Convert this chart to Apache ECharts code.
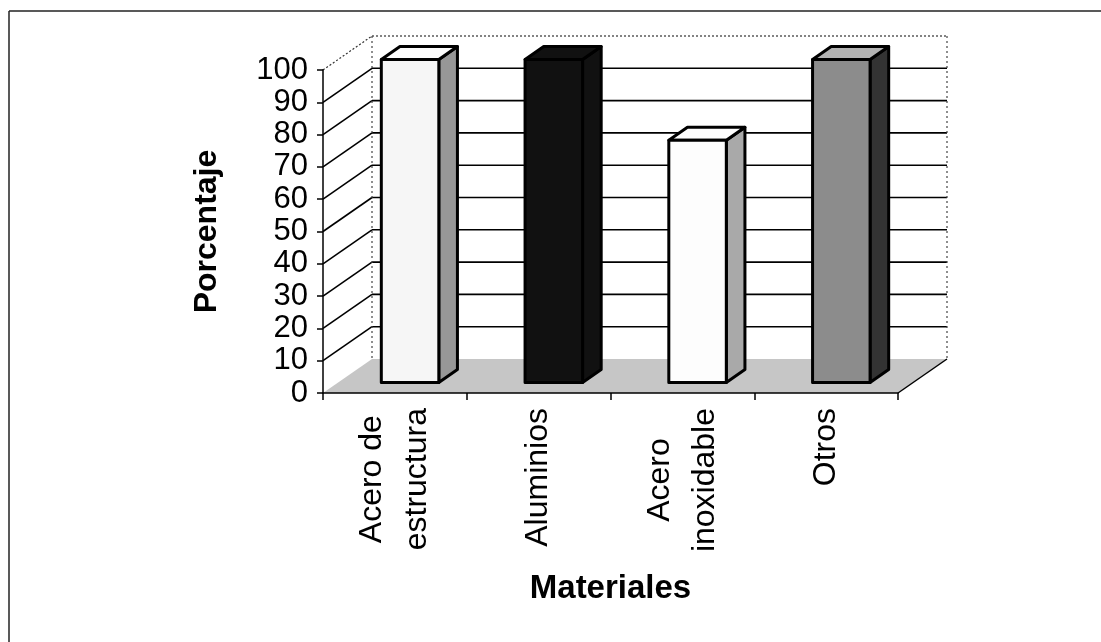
<!DOCTYPE html>
<html>
<head>
<meta charset="utf-8">
<script src="https://cdn.jsdelivr.net/npm/echarts@6/dist/echarts.min.js"></script>
<style>
  html, body { margin: 0; padding: 0; background: #fff; }
  #chart { width: 1101px; height: 642px; }
</style>
</head>
<body>
<div id="chart"></div>
<script>
// Chart data
const categories = ['Acero de\nestructura', 'Aluminios', 'Acero\ninoxidable', 'Otros'];
const percentages = [100, 100, 75, 100];
const yTicks = [0, 10, 20, 30, 40, 50, 60, 70, 80, 90, 100];
const yAxisTitle = 'Porcentaje';
const xAxisTitle = 'Materiales';

// Face colours for each bar (front, right side, top)
const barFaces = [
  { front: '#f6f6f6', side: '#979797', top: '#fcfcfc' },
  { front: '#111111', side: '#111111', top: '#111111' },
  { front: '#fdfdfd', side: '#a9a9a9', top: '#fdfdfd' },
  { front: '#8c8c8c', side: '#333333', top: '#b3b3b3' }
];

// Oblique projection of the depth axis, in pixels for the full depth
const DEPTH_X = 49;
const DEPTH_Y = -34;
// Bars sit in the middle of the depth range
const BAR_D0 = 0.31;
const BAR_D1 = 0.69;
// Bar width as a share of the category band (gap width 150%)
const BAR_RATIO = 0.4;

const FONT = "'Liberation Sans', Arial, Helvetica, sans-serif";

const chart = echarts.init(document.getElementById('chart'), null, { renderer: 'canvas' });

// Floor, back wall, side wall and their grid lines
function renderScene(params, api) {
  const n = categories.length;
  const yMin = yTicks[0];
  const yMax = yTicks[yTicks.length - 1];
  const band = api.size([1, 0])[0];
  const first = api.coord([0, yMin]);
  const last = api.coord([n - 1, yMin]);
  const xl = first[0] - band / 2;
  const xr = last[0] + band / 2;
  const yb = first[1];
  const yTop = api.coord([0, yMax])[1];
  const children = [];

  children.push({
    type: 'polygon',
    shape: { points: [[xl, yb], [xr, yb], [xr + DEPTH_X, yb + DEPTH_Y], [xl + DEPTH_X, yb + DEPTH_Y]] },
    style: { fill: '#c6c6c6', stroke: null }
  });

  yTicks.forEach(function (v, k) {
    if (k === 0) return;
    const y = api.coord([0, v])[1];
    const isEdge = (k === yTicks.length - 1);
    const lineStyle = isEdge
      ? { stroke: '#333', lineWidth: 1.2, lineDash: [2, 2] }
      : { stroke: '#000', lineWidth: 1.6 };
    // back wall
    children.push({
      type: 'line',
      shape: { x1: xl + DEPTH_X, y1: y + DEPTH_Y, x2: xr + DEPTH_X, y2: y + DEPTH_Y },
      style: lineStyle
    });
    // side wall
    children.push({
      type: 'line',
      shape: { x1: xl, y1: y, x2: xl + DEPTH_X, y2: y + DEPTH_Y },
      style: lineStyle
    });
  });

  // wall verticals
  [xl + DEPTH_X, xr + DEPTH_X].forEach(function (x) {
    children.push({
      type: 'line',
      shape: { x1: x, y1: yTop + DEPTH_Y, x2: x, y2: yb + DEPTH_Y },
      style: { stroke: '#444', lineWidth: 1.2, lineDash: [2, 3] }
    });
  });

  // floor right edge
  children.push({
    type: 'line',
    shape: { x1: xr, y1: yb, x2: xr + DEPTH_X, y2: yb + DEPTH_Y },
    style: { stroke: '#000', lineWidth: 1.5 }
  });

  return { type: 'group', children: children };
}

// One prism per category
function renderBar(params, api) {
  const i = api.value(0);
  const v = api.value(1);
  const base = api.coord([i, 0]);
  const top = api.coord([i, v]);
  const bw = api.size([1, 0])[0] * BAR_RATIO;
  const ox = BAR_D0 * DEPTH_X, oy = BAR_D0 * DEPTH_Y;
  const dx = (BAR_D1 - BAR_D0) * DEPTH_X, dy = (BAR_D1 - BAR_D0) * DEPTH_Y;
  const x0 = base[0] - bw / 2 + ox;
  const x1 = base[0] + bw / 2 + ox;
  const yB = base[1] + oy;
  const yT = top[1] + oy;
  const f = barFaces[params.dataIndex];
  const edge = { stroke: '#000', lineWidth: 3, lineJoin: 'round' };
  return {
    type: 'group',
    children: [
      {
        type: 'polygon',
        shape: { points: [[x1, yB], [x1 + dx, yB + dy], [x1 + dx, yT + dy], [x1, yT]] },
        style: Object.assign({ fill: f.side }, edge)
      },
      {
        type: 'polygon',
        shape: { points: [[x0, yT], [x1, yT], [x1 + dx, yT + dy], [x0 + dx, yT + dy]] },
        style: Object.assign({ fill: f.top }, edge)
      },
      {
        type: 'rect',
        shape: { x: x0, y: yT, width: x1 - x0, height: yB - yT },
        style: Object.assign({ fill: f.front }, edge)
      }
    ]
  };
}

const option = {
  backgroundColor: '#ffffff',
  animation: false,
  textStyle: { fontFamily: FONT, color: '#000' },
  grid: { left: 323, top: 70, width: 575, height: 323, containLabel: false },
  xAxis: {
    type: 'category',
    data: categories,
    boundaryGap: true,
    name: xAxisTitle,
    nameLocation: 'middle',
    nameGap: 179,
    nameTextStyle: { fontSize: 33, fontWeight: 'bold', color: '#000', fontFamily: FONT },
    axisLine: { show: true, lineStyle: { color: '#000', width: 1.5 } },
    axisTick: { show: true, length: 7, lineStyle: { color: '#000', width: 1.5 } },
    axisLabel: {
      interval: 0,
      rotate: 90,
      margin: 15,
      fontSize: 32,
      lineHeight: 45,
      color: '#000',
      fontFamily: FONT,
      formatter: function (s) {
        return s.split('\n').map(function (l) { return '{c|' + l + '}'; }).join('\n');
      },
      rich: { c: { align: 'center', fontSize: 32, lineHeight: 45, color: '#000', fontFamily: FONT } }
    },
    splitLine: { show: false }
  },
  yAxis: {
    type: 'value',
    min: yTicks[0],
    max: yTicks[yTicks.length - 1],
    interval: yTicks[1] - yTicks[0],
    name: yAxisTitle,
    nameLocation: 'middle',
    nameGap: 100,
    nameTextStyle: { fontSize: 32, fontWeight: 'bold', color: '#000', fontFamily: FONT },
    axisLine: { show: true, lineStyle: { color: '#000', width: 1.5 } },
    axisTick: { show: true, length: 6, lineStyle: { color: '#000', width: 1.5 } },
    axisLabel: { fontSize: 31, color: '#000', margin: 15, fontFamily: FONT },
    splitLine: { show: false }
  },
  graphic: [
    { type: 'line', shape: { x1: 9, y1: 11, x2: 1101, y2: 11 }, style: { stroke: '#222', lineWidth: 1.5 }, z: 10 },
    { type: 'line', shape: { x1: 9, y1: 11, x2: 9, y2: 642 }, style: { stroke: '#222', lineWidth: 1.5 }, z: 10 }
  ],
  series: [
    {
      type: 'custom',
      z: -1,
      silent: true,
      renderItem: renderScene,
      data: [[0, 0]],
      encode: { x: 0, y: 1 }
    },
    {
      type: 'custom',
      z: 3,
      renderItem: renderBar,
      data: percentages.map(function (v, i) { return [i, v]; }),
      encode: { x: 0, y: 1 }
    }
  ]
};

chart.setOption(option);
</script>
</body>
</html>
